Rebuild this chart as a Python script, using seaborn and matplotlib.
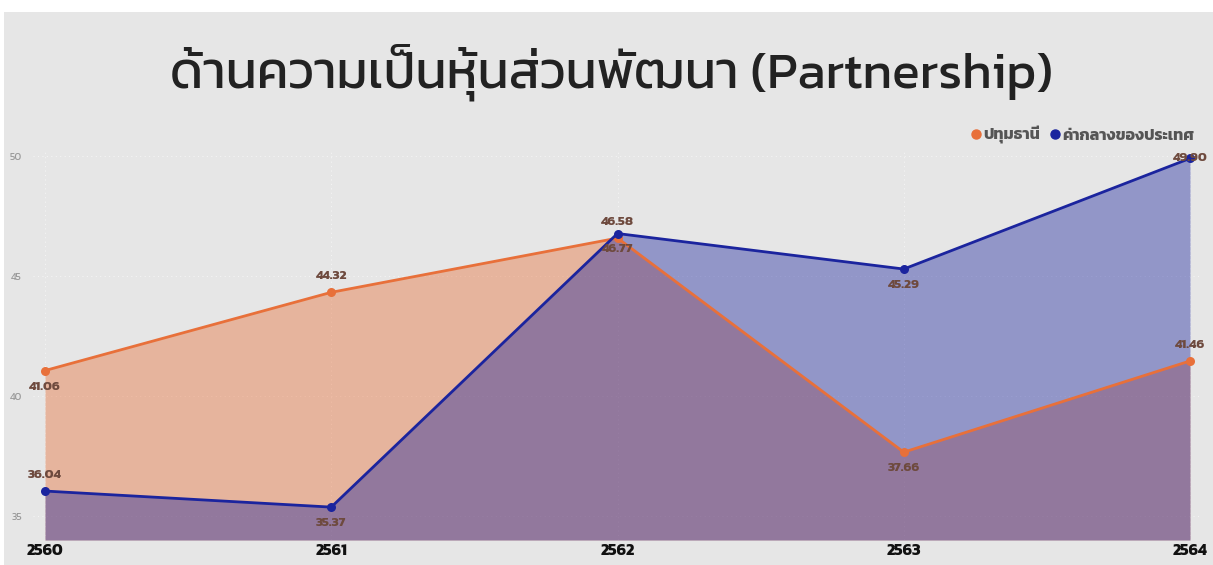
import matplotlib
matplotlib.use("Agg")
import matplotlib.pyplot as plt
from matplotlib.lines import Line2D
from matplotlib.patches import Rectangle
import seaborn as sns
import pandas as pd

years = ["2560", "2561", "2562", "2563", "2564"]
pathum = [41.06, 44.32, 46.58, 37.66, 41.46]
national = [36.04, 35.37, 46.77, 45.29, 49.90]
series_names = ["ปทุมธานี", "ค่ากลางของประเทศ"]
title = "ด้านความเป็นหุ้นส่วนพัฒนา (Partnership)"
y_ticks = [35, 40, 45, 50]

# label placement: 1 = above, -1 = below, 0 = on point
pathum_pos = [-1, 1, 1, -1, 1]
national_pos = [1, -1, -1, -1, 0]

ORANGE = "#e8703a"
BLUE = "#1b249e"
BG = "#e6e6e6"
LABEL = "#6e4a3e"

sns.set_theme(style="white")
plt.rcParams["font.family"] = ["Kanit", "Noto Sans Thai", "DejaVu Sans"]

fig = plt.figure(figsize=(12.13, 5.65), dpi=100)
fig.patch.set_facecolor("white")
fig.add_artist(Rectangle((4 / 1213, 0), 1 - 4 / 1213, 1 - 12 / 565,
                         transform=fig.transFigure, facecolor=BG,
                         edgecolor="none", zorder=-10))

ax = fig.add_axes([33 / 1213, 25 / 565, (1200 - 33) / 1213, (540 - 150) / 565])
ax.set_facecolor("none")

df = pd.DataFrame({"x": range(len(years)), "pathum": pathum, "national": national})
ymin = 34.0
ax.fill_between(df["x"], df["pathum"], ymin, color=ORANGE, alpha=0.42, lw=0, zorder=1)
ax.fill_between(df["x"], df["national"], ymin, color=BLUE, alpha=0.41, lw=0, zorder=2)
sns.lineplot(data=df, x="x", y="pathum", ax=ax, color=ORANGE, lw=2.0,
             marker="o", markersize=6.5, markeredgewidth=0, zorder=4)
sns.lineplot(data=df, x="x", y="national", ax=ax, color=BLUE, lw=2.0,
             marker="o", markersize=6.5, markeredgewidth=0, zorder=5)

for xs, vals, poss in ((df["x"], pathum, pathum_pos), (df["x"], national, national_pos)):
    for xv, v, p in zip(xs, vals, poss):
        ax.annotate(f"{v:.2f}", (xv, v), xytext=(0, 11.5 * p), textcoords="offset points",
                    ha="center", va="center", fontsize=9.5, fontweight="bold",
                    color=LABEL, zorder=6)

ax.set_xlim(-12 / 286.25, 4 + 10 / 286.25)
ax.set_ylim(ymin, 50.25)
ax.set_xticks(range(len(years)))
ax.set_xticklabels(years, fontsize=11.5, fontweight="bold", color="#111111")
ax.set_yticks(y_ticks)
ax.set_yticklabels([str(t) for t in y_ticks], fontsize=7.5, color="#9a9a9a")
ax.tick_params(axis="x", length=0, pad=3)
ax.tick_params(axis="y", length=0, pad=8)
ax.set_xlabel("")
ax.set_ylabel("")
ax.grid(True, color="#f4f4f4", linestyle=(0, (1, 3)), lw=0.8, zorder=0)
for s in ax.spines.values():
    s.set_visible(False)

fig.text(0.504, 0.873, title, ha="center", va="center", fontsize=37, color="#222222")

handles = [Line2D([], [], marker="o", color=c, lw=0, markersize=6.5)
           for c in (ORANGE, BLUE)]
leg = fig.legend(handles, series_names, loc="upper right",
                 bbox_to_anchor=(1209 / 1213, 1 - 112 / 565), ncol=2, frameon=False,
                 handletextpad=0.0, columnspacing=0.4, handlelength=1.0,
                 prop={"size": 11.5, "weight": "bold"})
for t in leg.get_texts():
    t.set_color("#555555")

fig.savefig("out.png", dpi=100, facecolor=fig.get_facecolor())
